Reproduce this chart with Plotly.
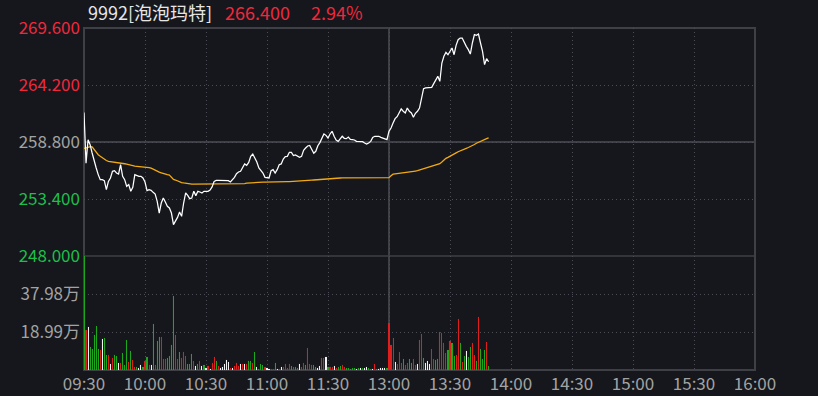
import plotly.graph_objects as go

# ---------------- data ----------------
time_ticks = [0, 30, 60, 90, 120, 150, 180, 210, 240, 270, 300, 330]
time_labels = ["09:30", "10:00", "10:30", "11:00", "11:30", "13:00",
               "13:30", "14:00", "14:30", "15:00", "15:30", "16:00"]

prev_close = 258.8
last_price = "266.400"
last_pct = "2.94%"
stock_name = "9992[泡泡玛特]"

price = [
    261.60, 256.80, 259.02, 258.55, 257.76, 256.97, 256.34, 255.71, 255.23, 255.23,
    255.14, 254.28, 255.07, 255.39, 256.02, 256.08, 255.86, 255.77, 256.65, 255.55,
    255.23, 254.60, 254.76, 254.13, 254.51, 255.71, 255.61, 255.55, 255.55, 255.39,
    255.01, 254.19, 254.28, 254.22, 254.03, 253.87, 253.18, 252.07, 253.02, 253.49,
    253.12, 252.71, 252.55, 252.07, 250.97, 251.28, 251.66, 252.17, 251.76, 253.02,
    253.97, 253.75, 253.43, 253.49, 254.13, 253.72, 254.13, 254.06, 253.97, 254.13,
    254.13, 254.13, 254.25, 254.54, 255.07, 255.17, 255.17, 255.17, 255.17, 255.17,
    255.17, 255.14, 255.01, 255.23, 255.45, 255.80, 255.96, 256.02, 256.40, 256.72,
    256.59, 256.87, 257.44, 257.66, 257.28, 256.91, 256.34, 256.12, 255.86, 255.45,
    255.39, 255.39, 256.08, 256.18, 255.86, 256.18, 256.65, 256.72, 257.19, 257.41,
    257.44, 257.82, 257.82, 257.51, 257.57, 257.44, 257.35, 257.44, 258.01, 258.23,
    258.42, 258.48, 258.17, 257.73, 257.92, 258.45, 258.74, 259.12, 259.56, 259.43,
    259.18, 259.56, 259.81, 259.34, 258.99, 258.86, 259.12, 259.34, 259.15, 259.12,
    259.27, 259.05, 259.02, 258.99, 258.86, 258.86, 258.80, 258.83, 258.71, 258.61,
    258.71, 258.86, 259.24, 259.34, 259.34, 259.34, 259.24, 259.18, 259.08, 259.02,
    259.81, 260.13, 260.60, 261.01, 261.20, 261.61, 261.93, 261.71, 261.55, 262.02,
    261.71, 261.55, 261.14, 261.52, 261.71, 262.02, 262.97, 263.85, 263.92, 263.92,
    263.92, 263.98, 264.33, 264.71, 265.02, 264.55, 266.28, 266.92, 267.29, 267.07,
    267.39, 267.71, 267.07, 267.96, 268.49, 268.65, 268.65, 268.18, 267.86, 267.55,
    267.13, 268.18, 268.97, 268.91, 269.03, 268.18, 267.39, 266.13, 266.70, 266.40,
]

avg_price = [
    258.20, 258.25, 258.33, 258.35, 258.33, 258.05, 257.78, 257.60, 257.45, 257.30,
    257.18, 257.05, 256.96, 256.94, 256.92, 256.90, 256.88, 256.86, 256.84, 256.80,
    256.74, 256.70, 256.64, 256.58, 256.54, 256.52, 256.50, 256.49, 256.48, 256.47,
    256.47, 256.45, 256.38, 256.32, 256.22, 256.10, 256.00, 255.94, 255.88, 255.80,
    255.75, 255.70, 255.67, 255.50, 255.25, 255.20, 255.10, 255.02, 254.96, 254.92,
    254.88, 254.84, 254.82, 254.80, 254.80, 254.80, 254.80, 254.80, 254.80, 254.80,
    254.80, 254.80, 254.80, 254.80, 254.80, 254.80, 254.82, 254.82, 254.82, 254.82,
    254.83, 254.83, 254.83, 254.84, 254.84, 254.84, 254.85, 254.85, 254.85, 254.85,
    254.90, 254.92, 254.94, 254.96, 254.97, 254.98, 255.00, 255.00, 255.00, 255.00,
    255.01, 255.01, 255.01, 255.02, 255.02, 255.02, 255.03, 255.03, 255.03, 255.04,
    255.04, 255.04, 255.06, 255.08, 255.10, 255.11, 255.12, 255.13, 255.14, 255.16,
    255.17, 255.18, 255.19, 255.20, 255.22, 255.23, 255.25, 255.26, 255.28, 255.30,
    255.32, 255.33, 255.35, 255.36, 255.37, 255.38, 255.39, 255.40, 255.40, 255.41,
    255.41, 255.42, 255.42, 255.42, 255.42, 255.42, 255.42, 255.42, 255.42, 255.42,
    255.42, 255.42, 255.42, 255.42, 255.42, 255.42, 255.42, 255.42, 255.42, 255.42,
    255.42, 255.60, 255.75, 255.78, 255.80, 255.83, 255.86, 255.89, 255.92, 255.95,
    255.97, 256.00, 256.02, 256.05, 256.08, 256.14, 256.20, 256.27, 256.33, 256.39,
    256.45, 256.50, 256.56, 256.62, 256.68, 256.75, 256.90, 257.13, 257.25, 257.35,
    257.44, 257.55, 257.66, 257.77, 257.88, 257.98, 258.05, 258.12, 258.20, 258.28,
    258.36, 258.46, 258.56, 258.68, 258.78, 258.88, 258.98, 259.06, 259.12, 259.18,
]

# volume in 万 shares, and bar direction (r = up, g = down, w = flat)
volume = [
    70.0, 20.0, 21.5, 11.7, 10.5, 17.5, 22.0, 10.3, 10.0, 15.5,
    16.2, 7.5, 7.5, 3.0, 5.8, 7.5, 7.0, 3.7, 3.3, 8.7,
    2.5, 15.0, 4.2, 9.5, 5.0, 1.3, 1.3, 0.8, 2.5, 1.3,
    4.7, 6.7, 2.5, 2.5, 23.0, 2.5, 14.5, 16.7, 16.7, 5.5,
    5.5, 5.8, 7.0, 12.5, 37.0, 17.5, 5.5, 9.2, 5.8, 9.2,
    7.0, 3.0, 3.0, 8.0, 4.5, 2.0, 3.0, 4.5, 2.0, 2.3,
    0.8, 2.0, 0.5, 3.3, 6.7, 4.5, 2.0, 1.0, 1.7, 3.0,
    5.0, 4.2, 0.8, 1.0, 2.0, 3.3, 2.0, 3.0, 3.0, 3.0,
    3.0, 4.7, 4.7, 3.7, 9.2, 1.5, 0.7, 3.0, 2.5, 1.5,
    1.0, 0.7, 0.3, 0.3, 3.7, 0.7, 0.7, 1.3, 1.5, 3.0,
    1.2, 3.0, 2.0, 1.3, 1.3, 0.8, 3.0, 1.3, 3.3, 2.5,
    10.8, 3.0, 2.5, 2.7, 1.3, 0.8, 2.0, 5.8, 6.2, 6.7,
    1.7, 1.3, 1.7, 2.0, 1.0, 1.3, 2.0, 2.5, 1.3, 1.0,
    1.0, 0.7, 1.0, 1.0, 0.7, 1.0, 1.0, 1.0, 1.0, 1.7,
    1.0, 0.7, 0.7, 3.0, 0.7, 0.7, 1.0, 1.0, 1.0, 1.0,
    23.7, 12.5, 16.2, 4.2, 3.2, 9.2, 3.7, 5.5, 2.5, 3.3,
    5.5, 3.3, 5.5, 2.5, 3.0, 15.0, 18.0, 6.0, 3.3, 4.5,
    3.0, 10.5, 5.5, 5.0, 5.5, 19.0, 18.7, 13.5, 8.7, 10.0,
    14.5, 13.5, 7.0, 7.5, 25.5, 13.5, 4.0, 7.0, 9.5, 6.5,
    11.5, 13.5, 7.5, 4.5, 26.5, 10.5, 5.5, 10.0, 14.0, 2.0,
]
direction = [
    "g", "r", "w", "g", "g", "g", "g", "g", "r", "w",
    "g", "g", "r", "w", "r", "g", "g", "w", "r", "g",
    "g", "g", "r", "g", "r", "r", "g", "w", "w", "g",
    "r", "g", "r", "w", "g", "r", "g", "g", "r", "r",
    "r", "g", "g", "g", "g", "r", "r", "g", "r", "r",
    "r", "g", "g", "g", "r", "w", "g", "r", "w", "g",
    "w", "r", "w", "r", "r", "g", "r", "w", "w", "w",
    "w", "w", "r", "w", "r", "r", "r", "w", "r", "w",
    "r", "g", "g", "r", "g", "w", "g", "g", "g", "r",
    "w", "w", "r", "r", "g", "w", "r", "w", "r", "r",
    "r", "r", "g", "r", "g", "g", "w", "r", "r", "g",
    "r", "r", "r", "g", "g", "w", "w", "r", "r", "w",
    "g", "r", "r", "w", "r", "g", "g", "r", "r", "g",
    "g", "g", "g", "g", "w", "g", "w", "g", "w", "w",
    "g", "g", "w", "r", "g", "w", "w", "w", "w", "g",
    "r", "r", "r", "w", "r", "r", "r", "g", "r", "r",
    "g", "g", "r", "r", "w", "r", "r", "g", "w", "w",
    "w", "r", "r", "g", "g", "r", "r", "r", "r", "g",
    "r", "g", "g", "r", "r", "g", "r", "g", "w", "g",
    "g", "r", "r", "g", "r", "g", "g", "g", "r", "g",
]

price_ticks = [248.0, 253.4, 258.8, 264.2, 269.6]
price_tick_labels = ["248.000", "253.400", "258.800", "264.200", "269.600"]
pct_ticks = [-4.17, -2.09, 0.0, 2.09, 4.17]
pct_tick_labels = ["4.17%", "2.09%", "0.00%", "2.09%", "4.17%"]
vol_ticks = [18.99, 37.98]
vol_tick_labels = ["18.99万", "37.98万"]
vol_max = 56.97

# ---------------- styles ----------------
BG = "#15171c"
GRID = "#4a4d55"
LINE = "#3e4046"
RED = "#f0283c"
GREEN = "#1fbe4a"
GRAY = "#a3a3a3"
FONT = "Noto Sans CJK SC"
bar_colors = {"r": "#e01e1e", "g": "#1ca81c", "w": "#f4f4f4"}
tick_colors = [GREEN, GREEN, GRAY, RED, RED]

minutes = list(range(len(price)))
pct_min, pct_max = pct_ticks[0], pct_ticks[-1]
colors = [bar_colors[d] for d in direction]

fig = go.Figure()
fig.add_trace(go.Bar(
    x=minutes, y=volume, width=0.55,
    marker=dict(color=colors, line=dict(width=0.05, color=colors)),
    xaxis="x2", yaxis="y3", hoverinfo="skip", showlegend=False,
))
fig.add_trace(go.Scatter(
    x=minutes, y=avg_price, mode="lines",
    line=dict(color="#f2aa14", width=1.3),
    xaxis="x", yaxis="y", hoverinfo="skip", showlegend=False,
))
fig.add_trace(go.Scatter(
    x=minutes, y=price, mode="lines",
    line=dict(color="#ffffff", width=1.25),
    xaxis="x", yaxis="y", hoverinfo="skip", showlegend=False,
))

split = 114 / 342
axis_common = dict(showline=False, zeroline=False, ticks="", automargin=False)
tickfont = dict(family=FONT, size=17, color=GRAY)
griddot = dict(showgrid=True, gridcolor=GRID, griddash="1px,3px", gridwidth=1)

fig.update_layout(
    width=818, height=396,
    margin=dict(l=84, r=63, t=28, b=26, autoexpand=False),
    paper_bgcolor=BG, plot_bgcolor=BG,
    bargap=0, showlegend=False, hovermode=False,
    font=dict(family=FONT, color=GRAY),
    xaxis=dict(domain=[0, 1], anchor="y", range=[0, 330], tickvals=time_ticks,
               showticklabels=False, **griddot, **axis_common),
    xaxis2=dict(domain=[0, 1], anchor="y3", range=[0, 330], matches="x",
                tickvals=time_ticks, ticktext=time_labels, tickfont=tickfont,
                ticklabelstandoff=2, **griddot, **axis_common),
    yaxis=dict(domain=[split, 1], anchor="x", range=[price_ticks[0], price_ticks[-1]],
               tickvals=price_ticks,
               ticktext=[f"<span style='color:{c}'>{t}</span>"
                         for t, c in zip(price_tick_labels, tick_colors)],
               tickfont=tickfont, ticklabelstandoff=3, **griddot, **axis_common),
    yaxis2=dict(overlaying="y", side="right", anchor="x", range=[pct_min, pct_max],
                tickvals=pct_ticks,
                ticktext=[f"<span style='color:{c}'>{t}</span>"
                          for t, c in zip(pct_tick_labels, tick_colors)],
                showgrid=False, tickfont=tickfont, ticklabelstandoff=3, **axis_common),
    yaxis3=dict(domain=[0, split], anchor="x2", range=[0, vol_max], tickvals=vol_ticks,
                ticktext=vol_tick_labels, tickfont=tickfont, ticklabelstandoff=3,
                **griddot, **axis_common),
    yaxis4=dict(overlaying="y3", side="right", anchor="x2", range=[0, vol_max],
                tickvals=vol_ticks, ticktext=vol_tick_labels, showgrid=False,
                tickfont=tickfont, ticklabelstandoff=3, **axis_common),
)

# frame, panel divider, previous-close line and lunch-break line
shapes = [
    dict(type="rect", xref="paper", yref="paper", x0=0, x1=1, y0=0, y1=1,
         line=dict(color=LINE, width=2), layer="below"),
    dict(type="line", xref="paper", yref="paper", x0=0, x1=1, y0=split, y1=split,
         line=dict(color=LINE, width=1.5), layer="below"),
    dict(type="line", xref="paper", yref="y", x0=0, x1=1, y0=prev_close, y1=prev_close,
         line=dict(color=LINE, width=2), layer="below"),
    dict(type="line", xref="x", yref="paper", x0=time_ticks[5], x1=time_ticks[5],
         y0=0, y1=1, line=dict(color=LINE, width=2), layer="below"),
]
fig.update_layout(shapes=shapes)

# header text
hy = (370 - 12) / 342
for px, txt, col in [(86, stock_name, "#e6e6e6"), (223, last_price, RED), (309, last_pct, RED)]:
    fig.add_annotation(xref="paper", yref="paper", x=(px - 84) / 671, y=hy,
                       xanchor="left", yanchor="middle", showarrow=False, text=txt,
                       font=dict(family=FONT, size=18, color=col))

post = (
    "document.body.style.margin='0';"
    "document.body.style.background='%s';"
    "document.querySelectorAll('.barlayer path').forEach(function(p){"
    "p.setAttribute('shape-rendering','crispEdges');p.style.shapeRendering='crispEdges';});"
) % BG

fig.write_html("out.html", config={"displayModeBar": False}, post_script=post)
